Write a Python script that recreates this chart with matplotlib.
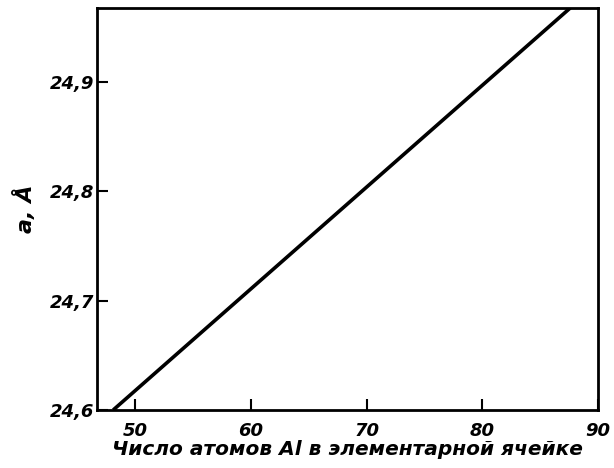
import matplotlib
matplotlib.use("Agg")
import matplotlib.pyplot as plt

x_vals = [48.1, 87.6]
y_vals = [24.6, 24.968]
x_ticks = [50, 60, 70, 80, 90]
x_tick_labels = ["50", "60", "70", "80", "90"]
y_ticks = [24.6, 24.7, 24.8, 24.9]
y_tick_labels = ["24,6", "24,7", "24,8", "24,9"]

fig = plt.figure(figsize=(6.14, 4.68), dpi=100)
ax = fig.add_axes([0.158, 0.124, 0.816, 0.859])
ax.plot(x_vals, y_vals, color="black", lw=2.6, solid_capstyle="butt")
ax.set_xlim(46.7, 90)
ax.set_ylim(24.6, 24.968)
ax.set_xticks(x_ticks)
ax.set_xticklabels(x_tick_labels)
ax.set_yticks(y_ticks)
ax.set_yticklabels(y_tick_labels)
for lbl in ax.get_xticklabels() + ax.get_yticklabels():
    lbl.set_fontstyle("italic")
    lbl.set_fontweight("bold")
    lbl.set_fontsize(13)
ax.tick_params(axis="both", direction="in", length=8, width=1.5, colors="black")
ax.tick_params(axis="x", pad=9)
ax.tick_params(axis="y", pad=2)
for s in ax.spines.values():
    s.set_linewidth(2)
ax.set_xlabel("Число атомов Al в элементарной ячейке",
              fontdict=dict(family="DejaVu Sans", style="italic", weight="bold", size=14.5),
              labelpad=0)
ax.set_ylabel("a, Å", fontdict=dict(family="DejaVu Sans", style="italic", weight="bold", size=16), labelpad=10)
fig.savefig("out.png", dpi=100)
